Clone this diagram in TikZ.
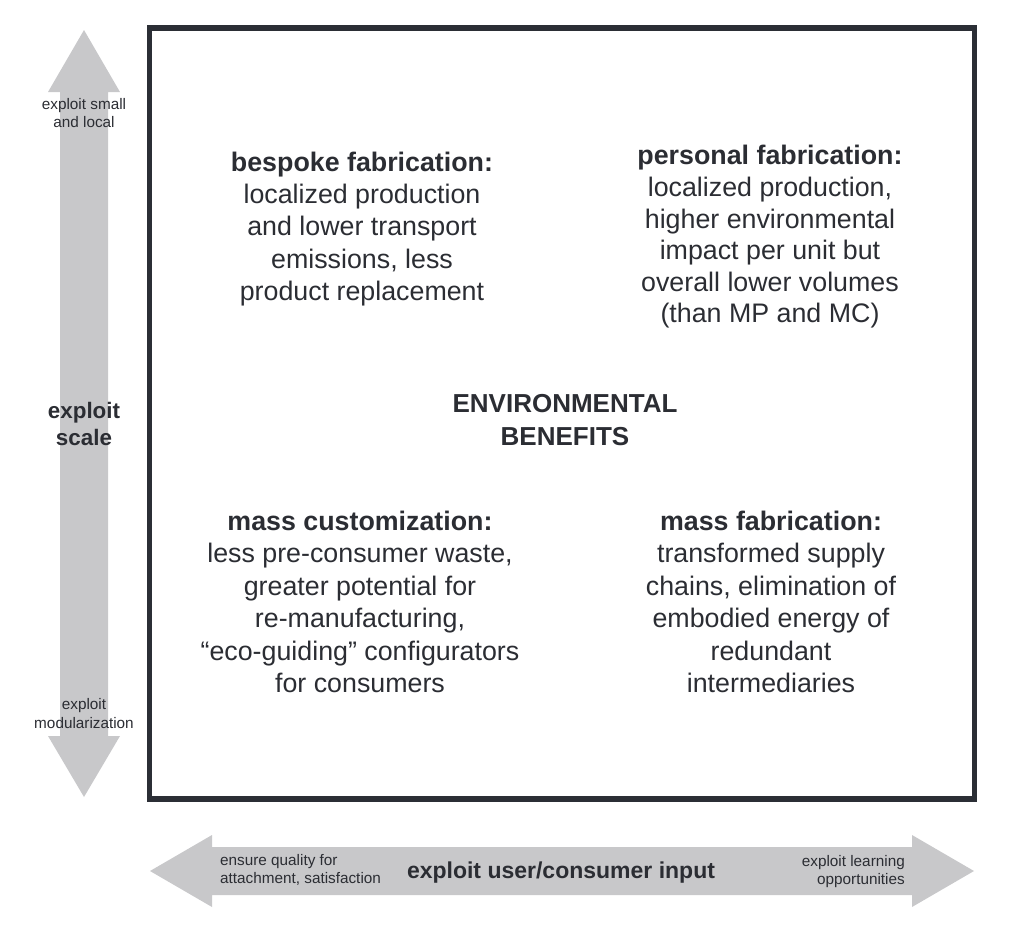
\documentclass[tikz,border=0pt]{standalone}
\usepackage{fontspec}
\setmainfont{Liberation Sans}
\usepackage{xcolor}
\usepackage{tikz}
\usetikzlibrary{positioning, calc}
\definecolor{arrowgray}{HTML}{C8C8CA}
\definecolor{framedark}{HTML}{2B2E35}
\definecolor{textdark}{HTML}{2B2D33}
\tikzstyle{quadtext} = [align=center, inner sep=0pt, text=textdark, font=\fontsize{26.8}{32.4}\selectfont]
\tikzstyle{axislabel} = [align=center, inner sep=0pt, text=textdark, font=\fontsize{22.4}{27}\selectfont\bfseries]
\tikzstyle{smalltext} = [align=center, inner sep=0pt, text=textdark, font=\fontsize{15.3}{17.8}\selectfont]
\tikzstyle{fatarrow} = [fill=arrowgray, draw=none]
\tikzstyle{frame} = [draw=framedark, line width=5.5pt]

\begin{document}
\begin{tikzpicture}[x=1pt, y=-1pt]
    \useasboundingbox (0,0) rectangle (1026,940);

    % big grey arrows
    \coordinate (scaletop) at (84,30);
    \coordinate (scalebot) at (84,797);
    \coordinate (userleft) at (150,871);
    \coordinate (userright) at (974,871);
    \fill [fatarrow] (scaletop) -- ++(36,62) -- ++(-12,0) |- ++(12,644)
        -- (scalebot) -- ++(-36,-61) -- ++(12,0) |- ++(-12,-644) -- cycle;
    \fill [fatarrow] (userleft) -- ++(62,-36) -- ++(0,12) -| ++(700,-12)
        -- (userright) -- ++(-62,36) -- ++(0,-12) -| ++(-700,12) -- cycle;

    \draw [frame] (149.5,28) rectangle (974.5,799);

    \node (bespoke) [quadtext] at (362,229) {\textbf{bespoke fabrication:} \\ localized production \\ and lower transport \\ emissions, less \\ product replacement};
    \node (personal) [quadtext, font=\fontsize{26.8}{31.6}\selectfont] at (770,237) {\textbf{personal fabrication:} \\ localized production, \\ higher environmental \\ impact per unit but \\ overall lower volumes \\ (than MP and MC)};
    \node (benefits) [quadtext, font=\fontsize{26}{33}\selectfont\bfseries] at (565,420) {ENVIRONMENTAL \\ BENEFITS};
    \node (masscust) [quadtext] at (360,602) {\textbf{mass customization:} \\ less pre-consumer waste, \\ greater potential for \\ re-manufacturing, \\ “eco-guiding” configurators \\ for consumers};
    \node (massfab) [quadtext] at (771,602) {\textbf{mass fabrication:} \\ transformed supply \\ chains, elimination of \\ embodied energy of \\ redundant \\ intermediaries};

    \node (scale) [axislabel] at (84,424) {exploit \\ scale};
    \node (smalllocal) [smalltext] at (84,113) {exploit small \\ and local};
    \node (modular) [smalltext, font=\fontsize{15.3}{19}\selectfont] at (84,713.5) {exploit \\ modularization};

    \node (userinput) [axislabel, font=\fontsize{23}{27}\selectfont\bfseries] at (561,873) {exploit user/consumer input};
    \node (quality) [smalltext, align=left, anchor=west] at (220,870) {ensure quality for \\ attachment, satisfaction};
    \node (learning) [smalltext, align=right, anchor=east] at (905,871.5) {exploit learning \\ opportunities};
\end{tikzpicture}
\end{document}
